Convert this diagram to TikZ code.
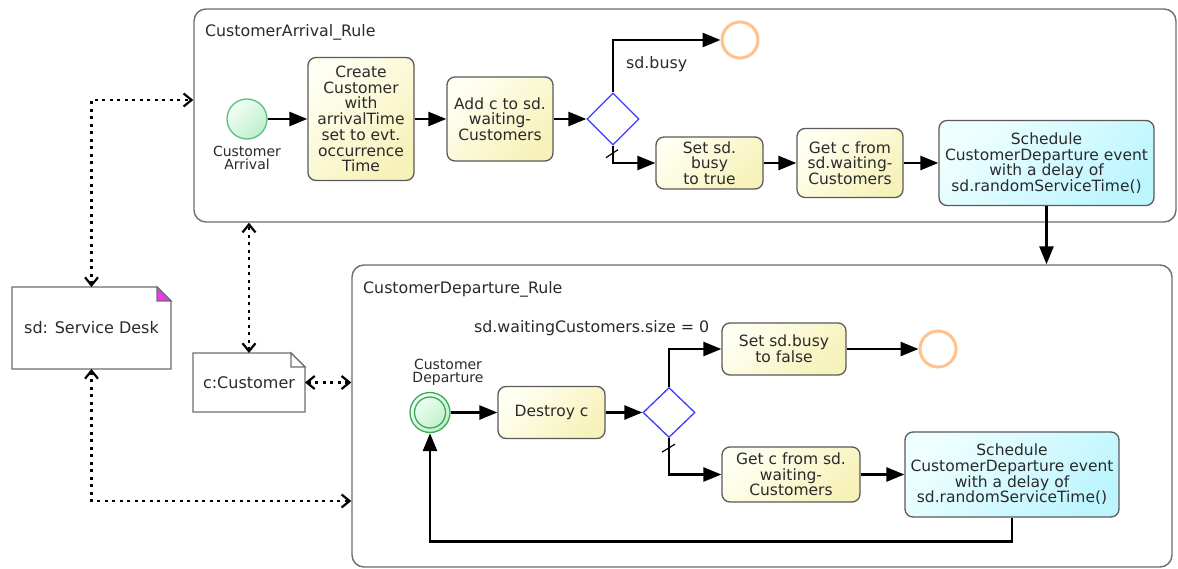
\documentclass[tikz,border=0pt]{standalone}
\usepackage{fontspec}
\setmainfont{DejaVu Sans}
\usetikzlibrary{arrows.meta,shapes.geometric}

\definecolor{ink}{HTML}{2A2A2A}
\definecolor{frameline}{HTML}{6E6E6E}
\definecolor{taskline}{HTML}{5A5A5A}
\definecolor{taskhi}{HTML}{FFFFF2}
\definecolor{tasklo}{HTML}{F7F2BA}
\definecolor{schhi}{HTML}{EEFFFF}
\definecolor{schlo}{HTML}{BDF5FF}
\definecolor{evthi}{HTML}{F2FFF5}
\definecolor{evtlo}{HTML}{BDEFCB}
\definecolor{startline}{HTML}{5DBE84}
\definecolor{depline}{HTML}{3DAA55}
\definecolor{endline}{HTML}{FFC28C}
\definecolor{gateline}{HTML}{3C3CFF}
\definecolor{foldpink}{HTML}{E63CE6}

\begin{document}
\begin{tikzpicture}[x=1pt,y=-1pt,
  frame/.style={draw=frameline, line width=1.4pt, rounded corners=12pt, inner sep=0pt},
  ttl/.style={font=\fontsize{15.8}{16}\selectfont, text=ink, inner sep=0pt},
  task/.style={draw=taskline, line width=1.3pt, rounded corners=8pt,
    top color=taskhi, bottom color=tasklo, shading angle=45,
    align=center, text=ink, inner sep=0pt, font=\fontsize{15.5}{15.7}\selectfont},
  callbox/.style={task, top color=schhi, bottom color=schlo, shading angle=45},
  startev/.style={circle, draw=startline, line width=1.3pt, top color=evthi,
    bottom color=evtlo, shading angle=45, minimum size=40pt, inner sep=0pt},
  endev/.style={circle, draw=endline, line width=3pt, fill=white, minimum size=36pt, inner sep=0pt},
  gate/.style={diamond, draw=gateline, line width=1.3pt, fill=white,
    minimum width=52pt, minimum height=52pt, inner sep=0pt},
  evlabel/.style={font=\fontsize{14}{13}\selectfont, align=center, text=ink, inner sep=0pt},
  note/.style={inner sep=0pt, outer sep=0pt, font=\fontsize{16}{16}\selectfont, text=ink},
  noteline/.style={draw=frameline, line width=1.4pt, line join=miter},
  flow/.style={line width=2.6pt, -{Triangle[length=18pt,width=14pt]}},
  assoc/.style={line width=2.4pt, dash pattern=on 3pt off 4.5pt,
    {Straight Barb[length=8pt,width=13pt,line width=2.2pt]}-{Straight Barb[length=8pt,width=13pt,line width=2.2pt]}},
  defaultmark/.style={line width=1.2pt}
]
\fill[white] (0,0) rectangle (1178,569);
\useasboundingbox (0,0) rectangle (1178,569);

% rule frames
\node[frame, minimum width=982pt, minimum height=213pt] (ruleA) at (685,115.5) {};
\node[ttl, anchor=base west] (ruleAtitle) at (205,37) {CustomerArrival\_Rule};
\node[frame, minimum width=820pt, minimum height=302pt] (ruleB) at (762,416) {};
\node[ttl, anchor=base west] (ruleBtitle) at (363,294) {CustomerDeparture\_Rule};

% CustomerArrival rule
\node[startev] (arr) at (247,119) {};
\node[evlabel] (arrlbl) at (247,158) {Customer\\Arrival};
\node[task, minimum width=106pt, minimum height=123pt] (create) at (361,119)
  {Create\\Customer\\with\\arrivalTime\\set to evt.\\occurrence\\Time};
\node[task, minimum width=106pt, minimum height=84pt] (addc) at (500,119)
  {Add c to sd.\\waiting-\\Customers};
\node[gate] (gwA) at (613,119) {};
\node[endev] (endA) at (740,40) {};
\node[ttl, anchor=base west] (busy) at (626,69) {sd.busy};
\node[task, minimum width=107pt, minimum height=52pt] (setA) at (709.5,163)
  {Set sd.\\busy\\to true};
\node[task, minimum width=106pt, minimum height=69pt] (getA) at (850,163)
  {Get c from\\sd.waiting-\\Customers};
\node[callbox, minimum width=215pt, minimum height=85pt] (schA) at (1046.5,163)
  {Schedule\\CustomerDeparture event\\with a delay of\\sd.randomServiceTime()};

\draw[flow] (arr) -- (create);
\draw[flow] (create) -- (addc);
\draw[flow] (addc) -- (gwA);
\draw[flow] (gwA.north) |- (endA.west);
\draw[flow] (gwA.south) |- (setA.west);
\draw[defaultmark] ([shift={(-7pt,-12pt)}]gwA.south) -- ([shift={(5pt,-4pt)}]gwA.south);
\draw[flow] (setA) -- (getA);
\draw[flow] (getA) -- (schA);
\coordinate (schAout) at (schA.south |- ruleB.north);
\draw[flow] (schA.south) -- (schAout);

% CustomerDeparture rule
\node[startev, draw=depline] (dep) at (430,412.5) {};
\draw[draw=depline, line width=1.3pt] (dep.center) circle[radius=15.5pt];
\node[evlabel] (deplbl) at (448,372) {Customer\\Departure};
\node[ttl, anchor=base west] (emptyq) at (474,333) {sd.waitingCustomers.size = 0};
\node[task, minimum width=107pt, minimum height=52pt] (destroy) at (551.5,412.5) {Destroy c};
\node[gate, minimum height=50pt] (gwB) at (669,412.5) {};
\node[task, minimum width=124pt, minimum height=52pt] (setB) at (784,349)
  {Set sd.busy\\to false};
\node[endev] (endB) at (938,349) {};
\node[task, minimum width=138pt, minimum height=55pt] (getB) at (791,474.5)
  {Get c from sd.\\waiting-\\Customers};
\node[callbox, minimum width=214pt, minimum height=85pt] (schB) at (1012,474.5)
  {Schedule\\CustomerDeparture event\\with a delay of\\sd.randomServiceTime()};

\draw[flow] (dep) -- (destroy);
\draw[flow] (destroy) -- (gwB);
\draw[flow] (gwB.north) |- (setB.west);
\draw[flow] (setB) -- (endB);
\draw[flow] (gwB.south) |- (getB.west);
\draw[defaultmark] ([shift={(-7pt,-14pt)}]gwB.south) -- ([shift={(6pt,-6pt)}]gwB.south);
\draw[flow] (getB) -- (schB);
\draw[flow] (schB.south) -- ++(0,24) -| (dep.south);

% data objects
\node[note, minimum width=159pt, minimum height=82pt] (sd) at (91.5,328) {sd: Service Desk};
\draw[noteline] (sd.south west) -- (sd.north west) -- ([xshift=-14pt]sd.north east)
  -- ([yshift=-14pt]sd.north east) -- (sd.south east) -- cycle;
\draw[noteline, fill=foldpink] ([xshift=-14pt]sd.north east)
  -- ([xshift=-14pt,yshift=-14pt]sd.north east) -- ([yshift=-14pt]sd.north east) -- cycle;

\node[note, minimum width=112pt, minimum height=59pt] (cust) at (249,382.5) {c:Customer};
\draw[noteline] (cust.south west) -- (cust.north west) -- ([xshift=-14pt]cust.north east)
  -- ([yshift=-14pt]cust.north east) -- (cust.south east) -- cycle;
\draw[noteline, fill=white] ([xshift=-14pt]cust.north east)
  -- ([xshift=-14pt,yshift=-14pt]cust.north east) -- ([yshift=-14pt]cust.north east) -- cycle;

% associations
\coordinate (ruleAin) at (ruleA.west |- 0,100);
\draw[assoc] (sd.north) |- (ruleAin);
\coordinate (ruleBin) at (ruleB.west |- 0,501);
\draw[assoc] (sd.south) |- (ruleBin);
\coordinate (ruleAbot) at (cust.north |- ruleA.south);
\draw[assoc] (cust.north) -- (ruleAbot);
\coordinate (ruleBside) at (ruleB.west |- cust.east);
\draw[assoc] (cust.east) -- (ruleBside);
\end{tikzpicture}
\end{document}
